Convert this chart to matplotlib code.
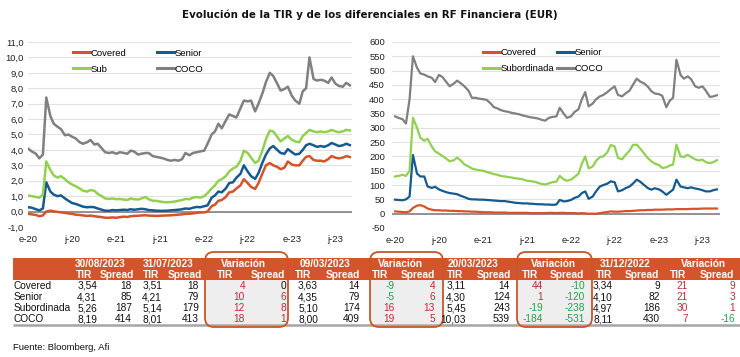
import matplotlib
matplotlib.use('Agg')
import matplotlib.pyplot as plt
from matplotlib.patches import Rectangle, FancyBboxPatch
from matplotlib.lines import Line2D
from matplotlib.ticker import MultipleLocator, FuncFormatter
from matplotlib import font_manager
import pandas as pd

# ---------------- DATA ----------------
title = "Evolución de la TIR y de los diferenciales en RF Financiera (EUR)"
source = "Fuente: Bloomberg, Afi"

date_start, date_last_sms, date_end = '2020-01-01', '2023-08-15', '2023-08-30'
xtick_dates = ['2020-01-01', '2020-07-01', '2021-01-01', '2021-07-01',
               '2022-01-01', '2022-07-01', '2023-01-01', '2023-07-01']
xtick_labels = ['e-20', 'j-20', 'e-21', 'j-21', 'e-22', 'j-22', 'e-23', 'j-23']

# TIR (%) - left chart
tir_coco = [4.07, 3.9, 3.75, 3.45, 3.7, 7.4, 6.2, 5.7, 5.5, 5.35,
            4.95, 5.0, 4.85, 4.75, 4.5, 4.4, 4.5, 4.65, 4.35, 4.4,
            4.1, 3.85, 3.8, 3.85, 3.75, 3.85, 3.8, 3.75, 3.95, 3.9,
            3.7, 3.75, 3.8, 3.8, 3.6, 3.55, 3.5, 3.45, 3.35, 3.3,
            3.35, 3.3, 3.4, 3.8, 3.65, 3.8, 3.85, 3.9, 3.95, 4.4,
            5.0, 5.2, 5.7, 5.4, 5.9, 6.3, 6.2, 6.1, 6.7, 7.2,
            7.15, 7.2, 6.5, 7.0, 7.7, 8.4, 9.0, 8.8, 8.3, 7.85,
            7.95, 8.1, 7.5, 7.2, 7.0, 7.8, 8.0, 10.0, 8.6, 8.5,
            8.55, 8.5, 8.35, 8.7, 8.3, 8.15, 8.1, 8.35, 8.19]
tir_sub = [1.04, 1.0, 0.95, 0.9, 1.1, 3.25, 2.7, 2.35, 2.2, 2.3,
           2.1, 1.9, 1.75, 1.65, 1.5, 1.35, 1.3, 1.4, 1.35, 1.15,
           1.0, 0.85, 0.82, 0.85, 0.8, 0.82, 0.78, 0.75, 0.85, 0.8,
           0.78, 0.85, 0.95, 0.8, 0.7, 0.7, 0.65, 0.62, 0.6, 0.62,
           0.65, 0.7, 0.75, 0.82, 0.8, 0.9, 0.95, 0.9, 1.0, 1.2,
           1.5, 1.7, 2.0, 2.1, 2.3, 2.6, 2.8, 2.9, 3.3, 3.95,
           3.8, 3.5, 3.15, 3.3, 4.0, 4.7, 5.25, 5.2, 4.85, 4.55,
           4.75, 4.9, 4.65, 4.55, 4.5, 4.9, 5.1, 5.3, 5.2, 5.15,
           5.2, 5.15, 5.2, 5.3, 5.2, 5.15, 5.2, 5.3, 5.26]
tir_senior = [0.28, 0.25, 0.15, 0.08, 0.2, 1.9, 1.3, 1.1, 1.0, 1.05,
              0.85, 0.7, 0.55, 0.5, 0.4, 0.32, 0.28, 0.3, 0.28, 0.2,
              0.12, 0.06, 0.05, 0.1, 0.08, 0.1, 0.12, 0.1, 0.15, 0.12,
              0.15, 0.18, 0.15, 0.1, 0.08, 0.06, 0.05, 0.05, 0.06, 0.08,
              0.1, 0.12, 0.15, 0.2, 0.18, 0.25, 0.3, 0.28, 0.35, 0.4,
              0.9, 1.05, 1.3, 1.25, 1.5, 1.85, 1.9, 2.2, 2.45, 3.0,
              2.6, 2.3, 2.12, 2.5, 3.2, 3.7, 4.1, 4.25, 4.0, 3.8,
              3.75, 4.05, 3.85, 3.7, 3.75, 4.0, 4.3, 4.4, 4.3, 4.2,
              4.25, 4.2, 4.3, 4.45, 4.35, 4.25, 4.3, 4.4, 4.31]
tir_covered = [-0.15, -0.18, -0.22, -0.3, -0.25, 0.0, 0.06, 0.02, -0.02, -0.05,
               -0.08, -0.12, -0.15, -0.2, -0.22, -0.25, -0.28, -0.26, -0.3, -0.33,
               -0.36, -0.4, -0.4, -0.38, -0.4, -0.36, -0.33, -0.35, -0.3, -0.28,
               -0.27, -0.25, -0.24, -0.26, -0.27, -0.28, -0.27, -0.26, -0.25, -0.24,
               -0.22, -0.2, -0.18, -0.15, -0.14, -0.12, -0.08, -0.06, -0.05, 0.0,
               0.35, 0.45, 0.7, 0.75, 0.95, 1.25, 1.3, 1.5, 1.7, 2.1,
               1.85, 1.6, 1.47, 1.85, 2.5, 3.0, 3.15, 3.0, 2.9, 2.75,
               2.85, 3.25, 3.05, 3.0, 3.0, 3.3, 3.55, 3.6, 3.35, 3.3,
               3.3, 3.25, 3.4, 3.6, 3.5, 3.45, 3.5, 3.6, 3.54]

# Spreads (pb) - right chart
spr_coco = [340, 335, 330, 315, 400, 550, 510, 490, 486, 480,
            475, 460, 485, 478, 460, 445, 455, 465, 455, 445,
            430, 405, 405, 402, 400, 398, 385, 372, 368, 362,
            358, 356, 352, 350, 347, 343, 340, 337, 335, 333,
            328, 325, 335, 338, 340, 370, 350, 335, 340, 355,
            365, 400, 425, 375, 385, 400, 410, 415, 425, 435,
            445, 415, 410, 420, 430, 450, 472, 462, 455, 445,
            428, 420, 418, 412, 372, 395, 405, 538, 485, 472,
            480, 470, 445, 440, 445, 430, 408, 410, 414]
spr_sub = [130, 132, 136, 132, 150, 335, 300, 265, 255, 262,
           235, 218, 210, 202, 192, 183, 187, 196, 185, 172,
           165, 158, 154, 152, 150, 146, 142, 138, 136, 132,
           130, 128, 126, 124, 122, 120, 115, 114, 112, 108,
           104, 102, 106, 110, 112, 132, 120, 115, 119, 128,
           140, 175, 200, 158, 165, 185, 198, 200, 215, 240,
           235, 195, 190, 205, 220, 240, 241, 228, 210, 195,
           183, 175, 170, 160, 162, 168, 172, 241, 200, 198,
           206, 198, 190, 186, 189, 180, 177, 180, 187]
spr_senior = [49, 48, 47, 50, 60, 205, 140, 130, 130, 95,
              90, 94, 85, 80, 75, 72, 70, 68, 62, 58,
              52, 50, 50, 49, 49, 48, 47, 46, 45, 44,
              44, 42, 40, 38, 37, 36, 36, 35, 34, 33,
              33, 32, 32, 31, 32, 48, 43, 44, 48, 55,
              60, 72, 78, 52, 60, 78, 95, 100, 105, 113,
              110, 78, 82, 89, 95, 105, 119, 112, 100, 90,
              84, 89, 85, 78, 66, 75, 84, 119, 95, 92,
              89, 92, 88, 86, 82, 78, 78, 82, 85]
spr_covered = [8, 7, 6, 5, 8, 20, 28, 30, 25, 18,
               14, 12, 12, 11, 11, 10, 10, 9, 9, 8,
               8, 7, 7, 6, 5, 5, 5, 4, 4, 4,
               4, 3, 3, 3, 3, 3, 3, 2, 2, 2,
               2, 2, 3, 3, 2, 3, 3, 2, 2, 2,
               1, 2, 1, 0, 0, 0, 2, 4, 6, 8,
               7, 7, 8, 9, 9, 10, 11, 12, 12, 13,
               13, 14, 14, 14, 15, 15, 15, 16, 16, 16,
               16, 17, 17, 17, 18, 18, 18, 18, 18]

left_labels = ['Covered', 'Senior', 'Sub', 'COCO']
right_labels = ['Covered', 'Senior', 'Subordinada', 'COCO']

# Table
row_labels = ['Covered', 'Senior', 'Subordinada', 'COCO']
col_headers = ['30/08/2023', '31/07/2023', 'Variación', '09/03/2023', 'Variación',
               '20/03/2023', 'Variación', '31/12/2022', 'Variación']
sub_headers = ['TIR', 'Spread']
tir_300823 = [3.54, 4.31, 5.26, 8.19]
spr_300823 = [18, 85, 187, 414]
tir_310723 = [3.51, 4.21, 5.14, 8.01]
spr_310723 = [18, 79, 179, 413]
var1_tir = [4, 10, 12, 18]
var1_spr = [0, 6, 8, 1]
tir_090323 = [3.63, 4.35, 5.10, 8.00]
spr_090323 = [14, 79, 174, 409]
var2_tir = [-9, -5, 16, 19]
var2_spr = [4, 6, 13, 5]
tir_200323 = [3.11, 4.30, 5.45, 10.03]
spr_200323 = [14, 124, 243, 539]
var3_tir = [44, 1, -19, -184]
var3_spr = [-10, -120, -238, -531]
tir_311222 = [3.34, 4.10, 4.97, 8.11]
spr_311222 = [9, 82, 186, 430]
var4_tir = [21, 21, 30, 7]
var4_spr = [9, 3, 1, -16]

# ---------------- STYLE / LAYOUT ----------------
W, H = 740, 357
fig = plt.figure(figsize=(W / 100, H / 100), dpi=100)
fig.patch.set_facecolor('white')

available = {f.name for f in font_manager.fontManager.ttflist}
NARROW = 'Liberation Sans Narrow' if 'Liberation Sans Narrow' in available else 'Liberation Sans'
plt.rcParams['font.family'] = ['Liberation Sans', 'DejaVu Sans']

C_COV, C_SEN, C_SUB, C_COCO = '#D6532A', '#165A8E', '#92D050', '#808080'
ORANGE = '#D4552B'
RED, GREEN = '#C02B3A', '#23A04B'


def rect(l, t, r, b):
    return [l / W, 1 - b / H, (r - l) / W, (b - t) / H]


dates = pd.DatetimeIndex(list(pd.date_range(date_start, date_last_sms, freq='SMS'))
                         + [pd.Timestamp(date_end)])
xt = pd.to_datetime(xtick_dates)


def style_axes(ax, ylo, yhi, step, fmt, xlim):
    ax.set_ylim(ylo, yhi)
    ax.set_xlim(pd.Timestamp(xlim[0]), pd.Timestamp(xlim[1]))
    ax.yaxis.set_major_locator(MultipleLocator(step))
    ax.yaxis.set_major_formatter(FuncFormatter(fmt))
    ax.set_xticks(xt)
    ax.set_xticklabels(xtick_labels)
    for s in ax.spines.values():
        s.set_visible(False)
    ax.grid(axis='y', color='#E2E2E2', lw=0.8)
    ax.set_axisbelow(True)
    ax.tick_params(length=0, labelsize=6.8, colors='#222222')
    ax.tick_params(axis='x', pad=5.5)
    ax.tick_params(axis='y', pad=3)
    ax.axhline(0, color='#8A8A8A', lw=1.3, zorder=1.5)
    ax.set_facecolor('none')


# Left chart
ax1 = fig.add_axes(rect(28, 42, 352, 227))
l_cov, = ax1.plot(dates, tir_covered, color=C_COV, lw=1.8)
l_sen, = ax1.plot(dates, tir_senior, color=C_SEN, lw=1.8)
l_sub, = ax1.plot(dates, tir_sub, color=C_SUB, lw=1.8)
l_coco, = ax1.plot(dates, tir_coco, color=C_COCO, lw=1.8)
style_axes(ax1, -1, 11, 1, lambda v, p: f"{v:.1f}".replace('.', ','),
           ('2019-12-30', '2023-09-08'))

# Right chart
ax2 = fig.add_axes(rect(392, 42, 720, 228))
r_cov, = ax2.plot(dates, spr_covered, color=C_COV, lw=1.6)
r_sen, = ax2.plot(dates, spr_senior, color=C_SEN, lw=1.6)
r_sub, = ax2.plot(dates, spr_sub, color=C_SUB, lw=1.6)
r_coco, = ax2.plot(dates, spr_coco, color=C_COCO, lw=1.6)
style_axes(ax2, -50, 600, 50, lambda v, p: f"{v:.0f}",
           ('2019-12-19', '2023-09-12'))
ax2.tick_params(axis='y', pad=5)


def col_legend(handles, labels, x, y):
    lg = fig.legend(handles, labels, loc='upper left', bbox_to_anchor=(x / W, 1 - y / H),
                    frameon=False, fontsize=6.8, handlelength=1.75, handletextpad=0.15,
                    borderpad=0, borderaxespad=0, labelspacing=0.75)
    for h in lg.legend_handles:
        h.set_linewidth(2.2)
    return lg


col_legend([l_cov, l_sub], [left_labels[0], left_labels[2]], 73, 48.5)
col_legend([l_sen, l_coco], [left_labels[1], left_labels[3]], 157, 48.5)
col_legend([r_cov, r_sub], [right_labels[0], right_labels[2]], 483, 48)
col_legend([r_sen, r_coco], [right_labels[1], right_labels[3]], 557, 48)

# Title (scaled to reference width)
t = fig.text(0.5, 1 - 15 / H, title, ha='center', va='center', fontweight='bold',
             family=['DejaVu Sans'], fontsize=8, color='#111111')
fig.canvas.draw()
wpx = t.get_window_extent(fig.canvas.get_renderer()).width
t.set_fontsize(8 * 370 / wpx)

# ---------------- TABLE ----------------
axt = fig.add_axes([0, 0, 1, 1], zorder=-1)
axt.set_xlim(0, W)
axt.set_ylim(H, 0)
axt.axis('off')

groups = [(tir_300823, spr_300823, False), (tir_310723, spr_310723, False),
          (var1_tir, var1_spr, True), (tir_090323, spr_090323, False),
          (var2_tir, var2_spr, True), (tir_200323, spr_200323, False),
          (var3_tir, var3_spr, True), (tir_311222, spr_311222, False),
          (var4_tir, var4_spr, True)]
# (tir right edge, spread right edge, header centre, TIR hdr centre, Spread hdr centre)
cols = [(97, 132, 100, 84, 117), (162, 199, 168, 151, 185), (245, 286, 243, 225, 268),
        (318, 360, 325, 303, 343), (395, 435, 400, 380, 418), (466, 510, 473, 455, 494),
        (543, 585, 553, 530, 567), (613, 660, 625, 604, 642), (688, 735, 703, 678, 717)]
boxes = [(205, 288), (370, 443), (517, 592)]
row_y = [286, 297, 308.3, 319.3]
FS = 7.3

axt.add_patch(Rectangle((13, 258), 727, 22, facecolor=ORANGE, edgecolor='none', zorder=1))
for (x0, x1) in boxes:
    axt.add_patch(Rectangle((x0, 280), x1 - x0, 44, facecolor='#EEEEEE', edgecolor='none', zorder=1))
axt.plot([13, 740], [324.5, 324.5], color='#A5A5A5', lw=1.8, zorder=2, solid_capstyle='butt')
for (x0, x1) in boxes:
    axt.add_patch(FancyBboxPatch((x0, 252), x1 - x0, 75,
                                 boxstyle='round,pad=0,rounding_size=9',
                                 facecolor='none', edgecolor='#C8552A', lw=1.3, zorder=3))

for (tv, sv, is_var), (tr, sr, hc, thc, shc), hdr in zip(groups, cols, col_headers):
    axt.text(hc, 264, hdr, ha='center', va='center', color='white', fontweight='bold',
             family=[NARROW, 'Liberation Sans'], fontsize=FS, zorder=4)
    axt.text(thc, 275, sub_headers[0], ha='center', va='center', color='white', fontweight='bold',
             family=[NARROW, 'Liberation Sans'], fontsize=FS, zorder=4)
    axt.text(shc, 275, sub_headers[1], ha='center', va='center', color='white', fontweight='bold',
             family=[NARROW, 'Liberation Sans'], fontsize=FS, zorder=4)
    for y, a, b in zip(row_y, tv, sv):
        if is_var:
            ca = RED if a > 0 else (GREEN if a < 0 else '#111111')
            cb = RED if b > 0 else (GREEN if b < 0 else '#111111')
            sa, sb = f"{a:d}", f"{b:d}"
        else:
            ca = cb = '#111111'
            sa, sb = f"{a:.2f}".replace('.', ','), f"{b:d}"
        axt.text(tr, y, sa, ha='right', va='center', color=ca,
                 family=[NARROW, 'Liberation Sans'], fontsize=FS, zorder=4)
        axt.text(sr, y, sb, ha='right', va='center', color=cb,
                 family=[NARROW, 'Liberation Sans'], fontsize=FS, zorder=4)

for y, lab in zip(row_y, row_labels):
    axt.text(14, y, lab, ha='left', va='center', color='#111111',
             family=[NARROW, 'Liberation Sans'], fontsize=FS, zorder=4)

axt.text(13, 348, source, ha='left', va='center', color='#111111', fontsize=6.8)

fig.savefig('out.png', dpi=100, facecolor='white')
